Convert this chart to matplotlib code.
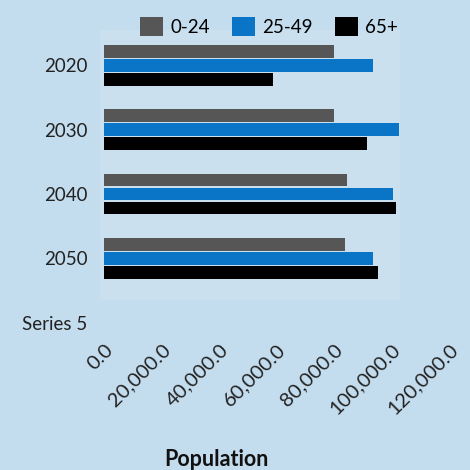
import numpy as np
import matplotlib.pyplot as plt
from matplotlib.patches import Rectangle

# datos
categories = ['2020', '2030', '2040', '2050', 'Series 5']
ages = ['0-24', '25-49', '65+']
pop_0_24 = [80000, 80000, 84500, 83800, np.nan]
pop_25_49 = [93600, 102600, 100500, 93600, np.nan]
pop_65 = [58800, 91500, 101600, 95300, np.nan]
xticks = [0, 20000, 40000, 60000, 80000, 100000, 120000]

colors = ['#565656', '#0a74c6', '#000000']
bg = '#c4ddee'

plt.rcParams['font.family'] = ['Lato', 'DejaVu Sans']

fig = plt.figure(figsize=(4.7, 4.7), dpi=100, facecolor=bg)
# zona del grafico algo mas clara
fig.patches.append(Rectangle((100 / 470, 1 - 300 / 470), 300 / 470, 270 / 470,
                             transform=fig.transFigure, facecolor='#cae0ef',
                             edgecolor='none', zorder=-5))

ax = fig.add_axes([104 / 470, 115 / 470, 345 / 470, 322 / 470])
ax.set_facecolor('none')

y = np.arange(len(categories))
h = 0.2
step = 0.217
for i, (vals, lab) in enumerate(zip([pop_0_24, pop_25_49, pop_65], ages)):
    ax.barh(y + (i - 1) * step, vals, height=h, color=colors[i], label=lab)

ax.set_ylim(len(categories) - 0.5, -0.5)
ax.set_yticks(y)
ax.set_yticklabels(categories, fontsize=13.5, color='#222222')
ax.set_xlim(0, 120000)
ax.set_xticks(xticks)
ax.set_xticklabels([f'{v:,.1f}' for v in xticks], fontsize=14.5, color='#222222',
                   rotation=45, ha='right', rotation_mode='anchor')
ax.tick_params(axis='x', length=0, pad=-10)
ax.tick_params(axis='y', length=0, pad=12)
for s in ax.spines.values():
    s.set_visible(False)

ax.set_xlabel('Population', fontsize=15.5, fontweight='bold', color='#111111')
ax.xaxis.set_label_coords((216 - 104) / 345, -(449 - 355) / 322)

leg = fig.legend(loc='upper center', bbox_to_anchor=(269 / 470, 1.0), ncol=3,
                 frameon=False, fontsize=13.5, handlelength=1.2, handleheight=1.2,
                 handletextpad=0.4, columnspacing=1.2)

fig.savefig('out.png', dpi=100, facecolor=bg)
